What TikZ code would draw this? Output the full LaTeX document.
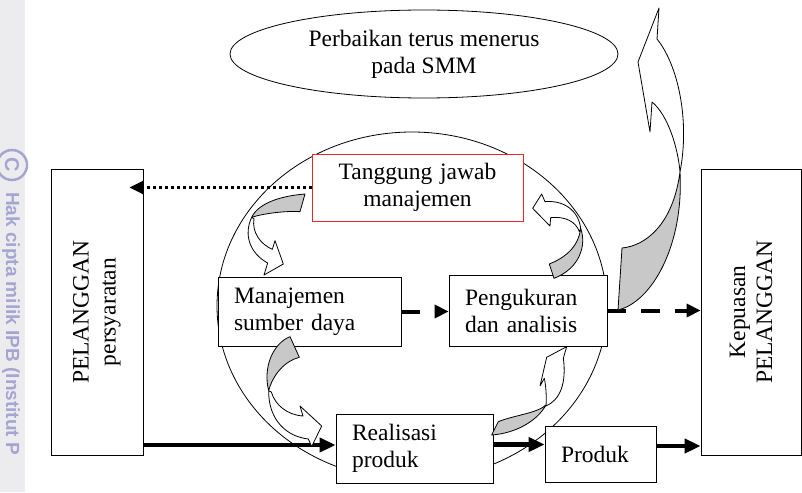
\documentclass[tikz,border=0pt]{standalone}
\usepackage{fontspec}
\setmainfont{Liberation Serif}
\newfontfamily\wmfont{Liberation Sans}
\usetikzlibrary{arrows.meta,shapes.geometric}

\definecolor{abu}{RGB}{200,200,200}
\definecolor{wmstrip}{RGB}{236,236,239}
\definecolor{wmtext}{RGB}{165,165,210}
\definecolor{merah}{RGB}{232,40,40}

\begin{document}
\begin{tikzpicture}[x=1pt, y=-1pt, font=\fontsize{23.5}{27}\selectfont,
    >={Triangle[length=14pt,width=13pt]},
    kotak/.style={draw, line width=0.8pt, fill=white, align=left, inner xsep=16pt, inner ysep=0pt},
    tegak/.style={draw, line width=0.8pt, fill=white, align=center, rotate=90, inner sep=0pt},
    panah/.style={->, line width=4.5pt, >={Triangle[length=16pt,width=14pt]}},
    putus/.style={->, line width=4pt, dash pattern=on 19pt off 15pt},
    titik/.style={->, line width=3pt, dash pattern=on 3pt off 3pt},
    depan/.style={draw, line width=0.8pt, fill=white, line join=round},
    belakang/.style={draw, line width=0.8pt, fill=abu, line join=round}]
    \useasboundingbox (0,0) rectangle (802,492);
    % watermark strip
    \fill[wmstrip] (0,0) rectangle (25,492);
    \draw[wmtext, line width=2.5pt] (12,165) circle (15pt);
    \node[wmtext, rotate=-90, inner sep=0pt, font=\wmfont\bfseries\fontsize{20}{20}\selectfont] (wmc) at (12,165) {C};
    \node[wmtext, rotate=-90, anchor=west, inner sep=0pt, font=\wmfont\bfseries\fontsize{19}{19}\selectfont] (wm) at (11,192) {Hak cipta milik IPB (Institut P};

    \node[draw, ellipse, line width=0.8pt, minimum width=388pt, minimum height=88pt, inner sep=0pt, align=center] (smm) at (424,54) {Perbaikan terus menerus\\pada SMM};
    \node[draw, ellipse, line width=0.8pt, minimum width=390pt, minimum height=348pt] (siklus) at (412,306) {};

    \node[kotak, text width=151pt, minimum height=69pt] (sdm) at (309.5,311.5) {Manajemen\\sumber daya};
    \node[kotak, text width=126pt, minimum height=71pt] (ukur) at (528,310.5) {Pengukuran\\dan analisis};
    \node[kotak, text width=125pt, minimum height=69pt] (real) at (414.5,448.5) {Realisasi\\produk};
    \node[kotak, text width=79pt, minimum height=56pt] (prod) at (600.5,454) {Produk};
    \node[kotak, draw=merah, align=center, text width=179pt, minimum height=67pt] (tj) at (417.5,187.5) {Tanggung jawab\\manajemen};
    % rotated boxes: south is the right side, north the left side
    \node[tegak, minimum width=286pt, minimum height=92pt] (pel) at (97,312) {PELANGGAN\\persyaratan};
    \node[tegak, minimum width=286pt, minimum height=100pt] (puas) at (751,312) {Kepuasan\\PELANGGAN};

    \draw[titik, shorten >=-14pt] (tj.west) -- (tj.west -| pel.south);
    \draw[putus] (sdm.east) -- (sdm.east -| ukur.west);
    \draw[putus] (ukur.east) -- (ukur.east -| puas.north);
    \coordinate (a0) at ([yshift=3.5pt]real.west);
    \coordinate (a1) at ([yshift=4pt]real.east);
    \coordinate (a2) at ([yshift=8pt]prod.east);
    \draw[panah] (a0 -| pel.south) -- (a0);
    \draw[panah] (a1) -- (a1 -| prod.west);
    \draw[panah] (a2) -- (a2 -| puas.north);

    % curved arrows inside the cycle
    \begin{scope}[shift={(190,120)}, scale=0.33333]
      \draw[belakang] (345,222) .. controls (270,228) and (205,250) .. (185,292) .. controls (215,282) and (280,272) .. (330,275) -- cycle;
      \draw[depan] (185,292) .. controls (160,345) and (180,400) .. (233,429) -- (222,465) -- (280,432) -- (255,362) -- (247,388) .. controls (210,372) and (185,335) .. (192,296) -- cycle;
      \draw[belakang] (1078,432) .. controls (1120,415) and (1165,385) .. (1172,325) .. controls (1190,375) and (1170,445) .. (1092,475) -- cycle;
      \draw[depan] (1172,325) .. controls (1165,270) and (1120,240) .. (1065,245) -- (1055,222) -- (1028,265) -- (1080,318) -- (1082,293) .. controls (1125,288) and (1158,305) .. (1168,335) -- cycle;
      \draw[belakang] (300,650) .. controls (250,670) and (218,740) .. (236,812) .. controls (248,765) and (285,722) .. (328,712) -- cycle;
      \draw[depan] (236,812) .. controls (235,900) and (290,950) .. (355,957) -- (365,980) -- (395,918) -- (330,858) -- (339,888) .. controls (292,885) and (255,855) .. (244,816) -- cycle;
      \draw[belakang] (905,945) .. controls (975,940) and (1040,905) .. (1068,855) .. controls (1040,880) and (975,885) .. (925,905) -- cycle;
      \draw[depan] (1130,680) -- (1120,715) .. controls (1130,790) and (1110,840) .. (1068,858) .. controls (1070,830) and (1068,800) .. (1063,775) -- (1050,798) -- (1070,712) -- cycle;
    \end{scope}

    % big arrow out of the cycle
    \draw[belakang] (618,310) -- (622,248) .. controls (645,246) and (673,225) .. (680,172) .. controls (684,245) and (652,302) .. (618,310) -- cycle;
    \draw[depan] (659,8) -- (657,39) .. controls (678,65) and (690,120) .. (680,172) .. controls (678,148) and (668,115) .. (652,102) -- (650,132) -- (638,62) -- cycle;
\end{tikzpicture}
\end{document}
